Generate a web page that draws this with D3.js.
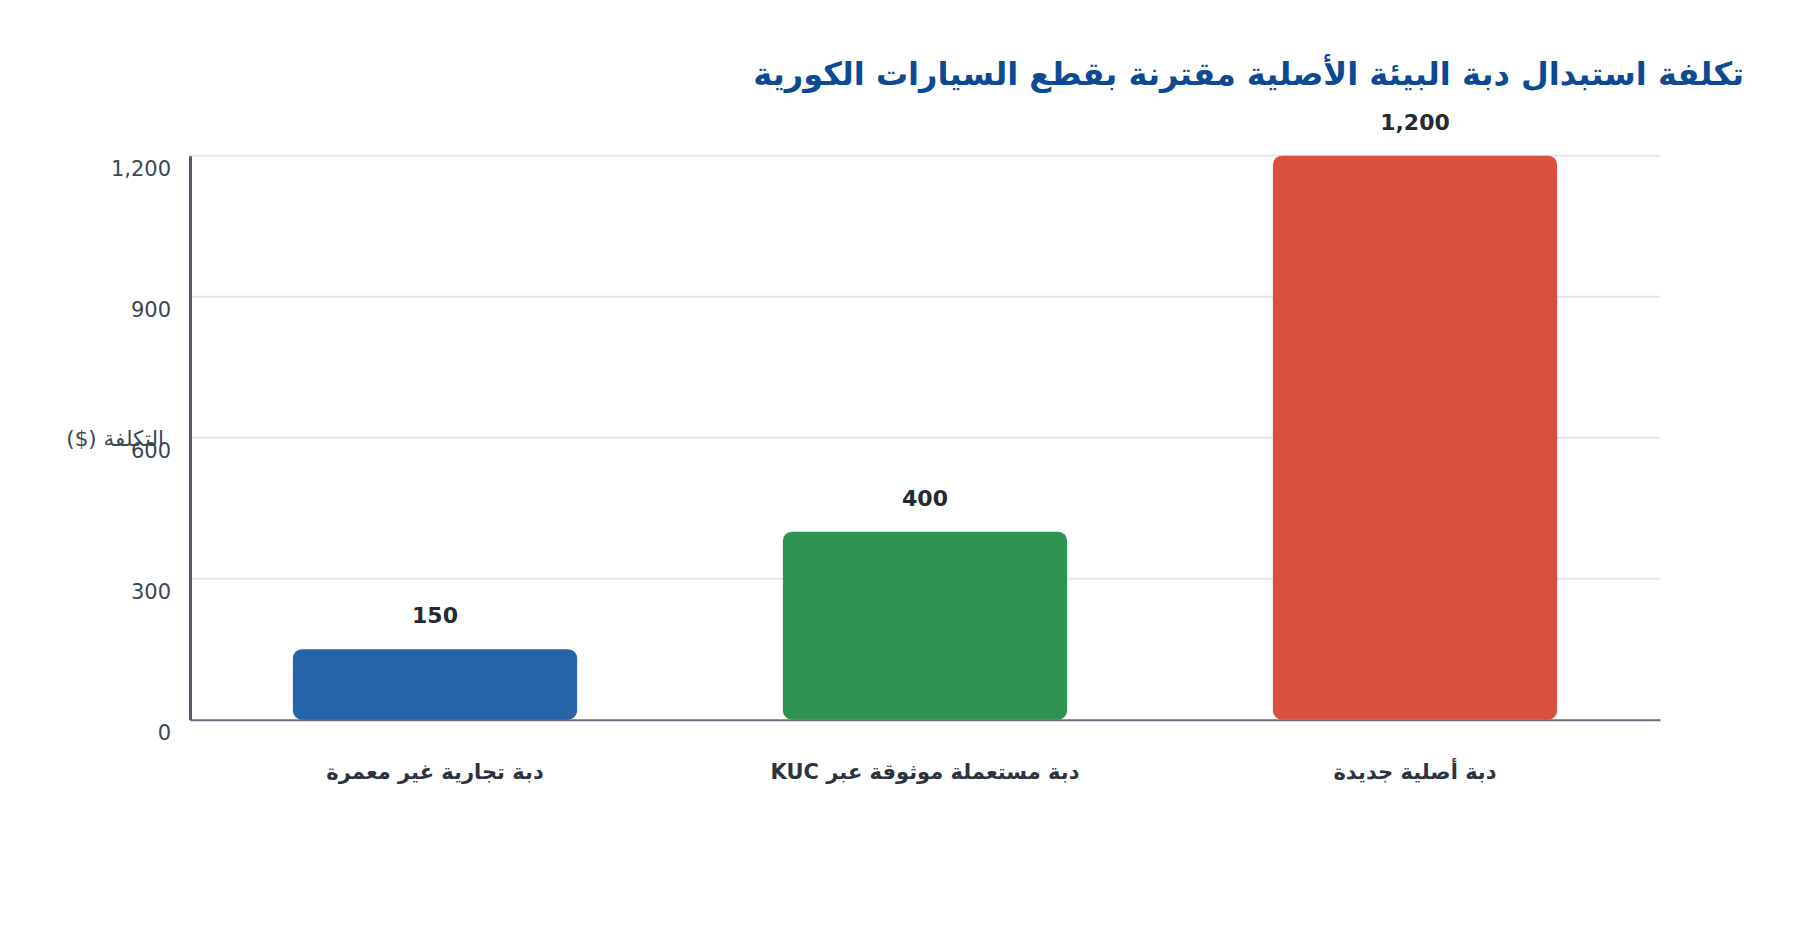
<!DOCTYPE html>
<html lang="ar">
<head>
<meta charset="utf-8">
<script src="https://cdn.jsdelivr.net/npm/d3@7"></script>
<style>
  html, body { margin: 0; padding: 0; background: #ffffff; }
  svg { display: block; font-family: "DejaVu Sans", sans-serif; }
</style>
</head>
<body>
<svg id="chart" width="1800" height="940"></svg>
<script>
// ---- data ----
const categories = ["دبة تجارية غير معمرة", "دبة مستعملة موثوقة عبر KUC", "دبة أصلية جديدة"];
const costs = [150, 400, 1200];
const barColors = ["#2564a8", "#2e9250", "#db4f3f"];
const yTicks = [0, 300, 600, 900, 1200];
const titleText = "تكلفة استبدال دبة البيئة الأصلية مقترنة بقطع السيارات الكورية";
const yTitleText = "التكلفة ($)";

// ---- layout ----
const W = 1800, H = 940;
const margin = { top: 155.7, right: 140, bottom: 220.3, left: 190 };
const FONT = "'DejaVu Sans', sans-serif";
const svg = d3.select("#chart");

const x = d3.scaleBand()
  .domain(categories)
  .range([margin.left, W - margin.right])
  .paddingInner(0.42)
  .paddingOuter(0.21);

const y = d3.scaleLinear()
  .domain([0, 1200])
  .range([H - margin.bottom, margin.top]);

// gridlines
svg.append("g")
  .selectAll("line")
  .data(yTicks.filter(d => d > 0))
  .join("line")
  .attr("x1", margin.left)
  .attr("x2", W - margin.right)
  .attr("y1", d => y(d))
  .attr("y2", d => y(d))
  .attr("stroke", "#e3e6ea")
  .attr("stroke-width", 2);

// y axis
const yAxis = d3.axisLeft(y).tickValues(yTicks).tickSize(0).tickPadding(19)
  .tickFormat(d3.format(","));
const gy = svg.append("g")
  .attr("transform", `translate(${margin.left},0)`)
  .call(yAxis)
  .attr("font-family", FONT);
gy.select(".domain").attr("stroke", "#535b6b").attr("stroke-width", 3);
gy.selectAll(".tick text")
  .attr("fill", "#3d4654")
  .attr("font-size", 21)
  .attr("dy", "0.92em");

// baseline (x axis)
const xAxis = d3.axisBottom(x).tickSize(0).tickPadding(0);
const gx = svg.append("g")
  .attr("transform", `translate(0,${y(0)})`)
  .call(xAxis)
  .attr("font-family", FONT);
gx.select(".domain").attr("stroke", "#6b7380").attr("stroke-width", 2);
gx.selectAll(".tick text")
  .attr("fill", "#2d3440")
  .attr("font-size", 21)
  .attr("font-weight", "bold")
  .attr("dy", "0")
  .attr("y", 59)
  .attr("direction", "rtl");

// bars
svg.append("g")
  .selectAll("rect")
  .data(categories)
  .join("rect")
  .attr("x", d => x(d))
  .attr("y", (d, i) => y(costs[i]))
  .attr("width", x.bandwidth())
  .attr("height", (d, i) => y(0) - y(costs[i]))
  .attr("rx", 9)
  .attr("ry", 9)
  .attr("fill", (d, i) => barColors[i]);

// value labels
svg.append("g")
  .selectAll("text")
  .data(categories)
  .join("text")
  .attr("x", d => x(d) + x.bandwidth() / 2)
  .attr("y", (d, i) => y(costs[i]) - 26)
  .attr("text-anchor", "middle")
  .attr("font-size", 22)
  .attr("font-weight", "bold")
  .attr("fill", "#262b33")
  .text((d, i) => d3.format(",")(costs[i]));

// y title
svg.append("text")
  .attr("x", 164)
  .attr("y", y(600) + 1)
  .attr("text-anchor", "start")
  .attr("direction", "rtl")
  .attr("dominant-baseline", "central")
  .attr("font-size", 21.5)
  .attr("fill", "#3d4654")
  .text(yTitleText);

// chart title
svg.append("text")
  .attr("x", 1744)
  .attr("y", 74)
  .attr("text-anchor", "start")
  .attr("direction", "rtl")
  .attr("dominant-baseline", "central")
  .attr("font-size", 32)
  .attr("font-weight", "bold")
  .attr("fill", "#0d4a94")
  .text(titleText);
</script>
</body>
</html>
